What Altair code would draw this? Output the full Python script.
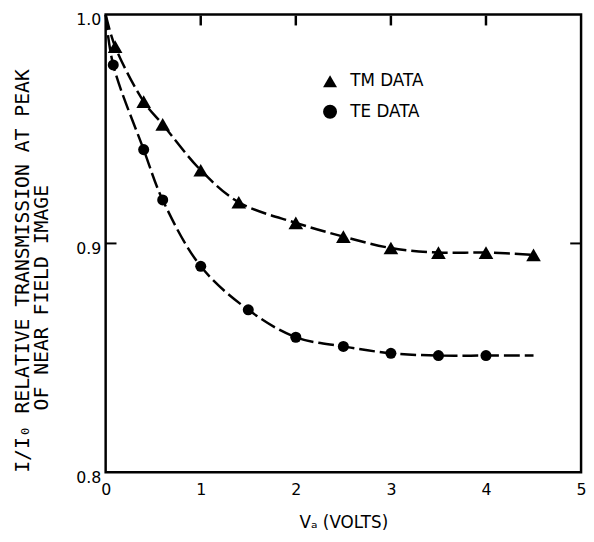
import altair as alt
import pandas as pd

# ---- data ----
tm_v = [0.1, 0.4, 0.6, 1.0, 1.4, 2.0, 2.5, 3.0, 3.5, 4.0, 4.5]
tm_i = [0.986, 0.962, 0.952, 0.932, 0.918, 0.909, 0.903, 0.898, 0.896, 0.896, 0.895]
te_v = [0.08, 0.4, 0.6, 1.0, 1.5, 2.0, 2.5, 3.0, 3.5, 4.0]
te_i = [0.978, 0.941, 0.919, 0.890, 0.871, 0.859, 0.855, 0.852, 0.851, 0.851]
start_v, start_i = [0.0], [1.0]          # both fitted curves start at (0, 1.0)
te_end_v, te_end_i = [4.5], [0.851]      # TE curve continues past last point
series_names = ["TM DATA", "TE DATA"]
x_ticks = [0, 1, 2, 3, 4, 5]
x_inner_ticks = [1, 2, 3, 4]
y_ticks = [0.8, 0.9, 1.0]
y_inner_ticks = [0.9]
x_title = "Vₐ  (VOLTS)"
y_title = ["I/I₀ RELATIVE TRANSMISSION AT PEAK", "OF NEAR FIELD IMAGE"]

pts = pd.DataFrame({
    "v": tm_v + te_v,
    "i": tm_i + te_i,
    "s": [series_names[0]] * len(tm_v) + [series_names[1]] * len(te_v),
})
tm_curve = pd.DataFrame({"v": start_v + tm_v, "i": start_i + tm_i})
te_curve = pd.DataFrame({"v": start_v + te_v + te_end_v, "i": start_i + te_i + te_end_i})
xt_df = pd.DataFrame({"v": x_inner_ticks})
yt_df = pd.DataFrame({"i": y_inner_ticks})

FONT = "DejaVu Sans"
W, H = 482, 464
TICK = 10
xs = alt.Scale(domain=[0, 5], nice=False, zero=False)
ys = alt.Scale(domain=[0.8, 1.0], nice=False, zero=False)

x_main = alt.Axis(orient="bottom", values=x_ticks, format="d", ticks=False, domain=False,
                  grid=False, labelFlush=False, labelPadding=10, labelFont=FONT,
                  labelFontSize=16, labelColor="black", title=x_title, titleFont=FONT,
                  titleFontSize=17, titleFontWeight="normal", titleColor="black",
                  titlePadding=17)
y_main = alt.Axis(orient="left", values=y_ticks, format=".1f", ticks=False, domain=False,
                  grid=False, labelPadding=5, labelOffset=5, labelFont=FONT,
                  labelFontSize=16, labelColor="black", title=None)

dash = [16, 5]
tm_line = alt.Chart(tm_curve).mark_line(color="black", strokeWidth=2.5, strokeDash=dash,
                                        interpolate="catmull-rom").encode(
    x=alt.X("v:Q", scale=xs, axis=x_main),
    y=alt.Y("i:Q", scale=ys, axis=y_main),
)
te_line = alt.Chart(te_curve).mark_line(color="black", strokeWidth=2.5, strokeDash=dash,
                                        interpolate="catmull-rom").encode(
    x=alt.X("v:Q", scale=xs, axis=None),
    y=alt.Y("i:Q", scale=ys, axis=None),
)
points = alt.Chart(pts).mark_point(filled=True, color="black", opacity=1).encode(
    x=alt.X("v:Q", scale=xs, axis=None),
    y=alt.Y("i:Q", scale=ys, axis=None),
    shape=alt.Shape("s:N", scale=alt.Scale(domain=series_names, range=["triangle-up", "circle"]),
                    legend=alt.Legend(orient="none", legendX=219, legendY=59, title=None,
                                      symbolSize=200, symbolFillColor="black",
                                      symbolStrokeColor="black", symbolOpacity=1,
                                      labelFont=FONT, labelFontSize=17, labelColor="black",
                                      labelOffset=12, rowPadding=11)),
    size=alt.condition(alt.datum.s == series_names[0], alt.value(220), alt.value(125)),
)

# inward tick marks on the frame: top ticks drawn as short vertical rules
top_ticks = alt.Chart(xt_df).mark_rule(color="black", strokeWidth=2.5, opacity=1).encode(
    x=alt.X("v:Q", scale=xs, axis=None),
    y=alt.value(1),
    y2=alt.value(TICK + 1),
)
left_tick = alt.Chart(yt_df).mark_rule(color="black", strokeWidth=2).encode(
    y=alt.Y("i:Q", scale=ys, axis=None), x=alt.value(0), x2=alt.value(TICK + 1))
right_tick = alt.Chart(yt_df).mark_rule(color="black", strokeWidth=2).encode(
    y=alt.Y("i:Q", scale=ys, axis=None), x=alt.value(W - TICK - 1), x2=alt.value(W))

title_df1 = pd.DataFrame({"t": [y_title[0]]})
title_df2 = pd.DataFrame({"t": [y_title[1]]})
yt1 = alt.Chart(title_df1).mark_text(angle=270, font="DejaVu Sans Mono", fontSize=20,
                                     align="center", baseline="middle", color="black").encode(
    text="t:N", x=alt.value(-84), y=alt.value(260))
yt2 = alt.Chart(title_df2).mark_text(angle=270, font="DejaVu Sans Mono", fontSize=20,
                                     align="center", baseline="middle", color="black").encode(
    text="t:N", x=alt.value(-64), y=alt.value(287))

chart = alt.layer(top_ticks, tm_line, te_line, points, left_tick, right_tick, yt1, yt2).resolve_scale(
    x="independent", y="independent"
).properties(
    width=W, height=H,
    autosize=alt.AutoSizeParams(type="none"),
    padding={"left": 99, "top": 3, "right": 5, "bottom": 67},
    background="white",
).configure_view(stroke="black", strokeWidth=2.5)

chart.save("out.html", embed_options={"renderer": "svg", "actions": False})
